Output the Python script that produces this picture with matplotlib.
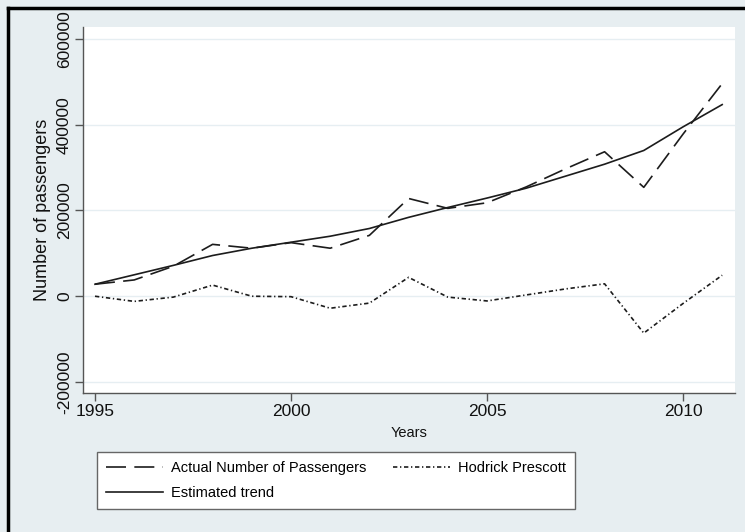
import matplotlib
matplotlib.use("Agg")
import matplotlib.pyplot as plt
from matplotlib.lines import Line2D

plt.rcParams['font.family'] = ['Liberation Sans', 'DejaVu Sans']

# values
years = list(range(1995, 2012))
actual = [28000, 38000, 70000, 121000, 112000, 125000, 112000, 142000, 228000,
          205000, 218000, 255000, 297000, 337000, 254000, 378000, 496000]
trend = [28000, 50000, 72000, 95000, 112000, 126000, 140000, 158000, 184000,
         207000, 229000, 252000, 280000, 308000, 340000, 395000, 447000]
hp_cycle = [0, -12000, -2000, 26000, 0, -1000, -28000, -16000, 44000,
            -2000, -11000, 3000, 17000, 29000, -86000, -17000, 49000]
yticks = [-200000, 0, 200000, 400000, 600000]
xticks = [1995, 2000, 2005, 2010]

bg = '#e7eef1'
ink = '#1c1c1c'

fig = plt.figure(figsize=(7.45, 5.32), dpi=100, facecolor=bg)
ax = fig.add_axes([83/745, 1-393/532, (735-83)/745, (393-27)/532])
ax.set_facecolor('white')

l1, = ax.plot(years, actual, color=ink, lw=1.2, dashes=(12, 5),
              label='Actual Number of Passengers')
l3, = ax.plot(years, hp_cycle, color=ink, lw=1.2, dashes=(2.6, 1.6, 0.8, 1.6),
              label='Hodrick Prescott')
l2, = ax.plot(years, trend, color=ink, lw=1.2, label='Estimated trend')

ax.set_xlim(1994.694, 2011.327)
ax.set_ylim(-225700, 628000)
ax.set_xticks(xticks)
ax.set_yticks(yticks)
ax.set_yticklabels([str(v) for v in yticks], rotation=90, va='center')
ax.grid(axis='y', color='#e6eef2', lw=1.0)
ax.set_axisbelow(True)

for s in ['top', 'right']:
    ax.spines[s].set_visible(False)
for s in ['left', 'bottom']:
    ax.spines[s].set_color('#555555')
    ax.spines[s].set_linewidth(1.0)
ax.tick_params(direction='out', length=6, width=1, color='#555555',
               labelsize=12.5, labelcolor='#111111', pad=2)

ax.set_ylabel('Number of passengers', fontsize=13, color='#111111', labelpad=4)
ax.set_xlabel('Years', fontsize=10.5, color='#111111', labelpad=5)

leg = fig.legend(handles=[l1, l2, l3], ncol=2, loc='upper left',
                 bbox_to_anchor=(97/745, 1-452/532), borderaxespad=0,
                 fontsize=10.5, frameon=True, fancybox=False, framealpha=1,
                 edgecolor='#666666', handlelength=3.9, handletextpad=0.55,
                 borderpad=0.65, labelspacing=0.7, columnspacing=1.8)
leg.get_frame().set_linewidth(1.0)

# outer black frame on left and top
fig.add_artist(Line2D([8/745, 8/745], [0, 1-8/532], color='black', lw=2.5,
                      transform=fig.transFigure))
fig.add_artist(Line2D([8/745, 1], [1-8/532, 1-8/532], color='black', lw=2.5,
                      transform=fig.transFigure))

fig.savefig('out.png', dpi=100, facecolor=bg)
